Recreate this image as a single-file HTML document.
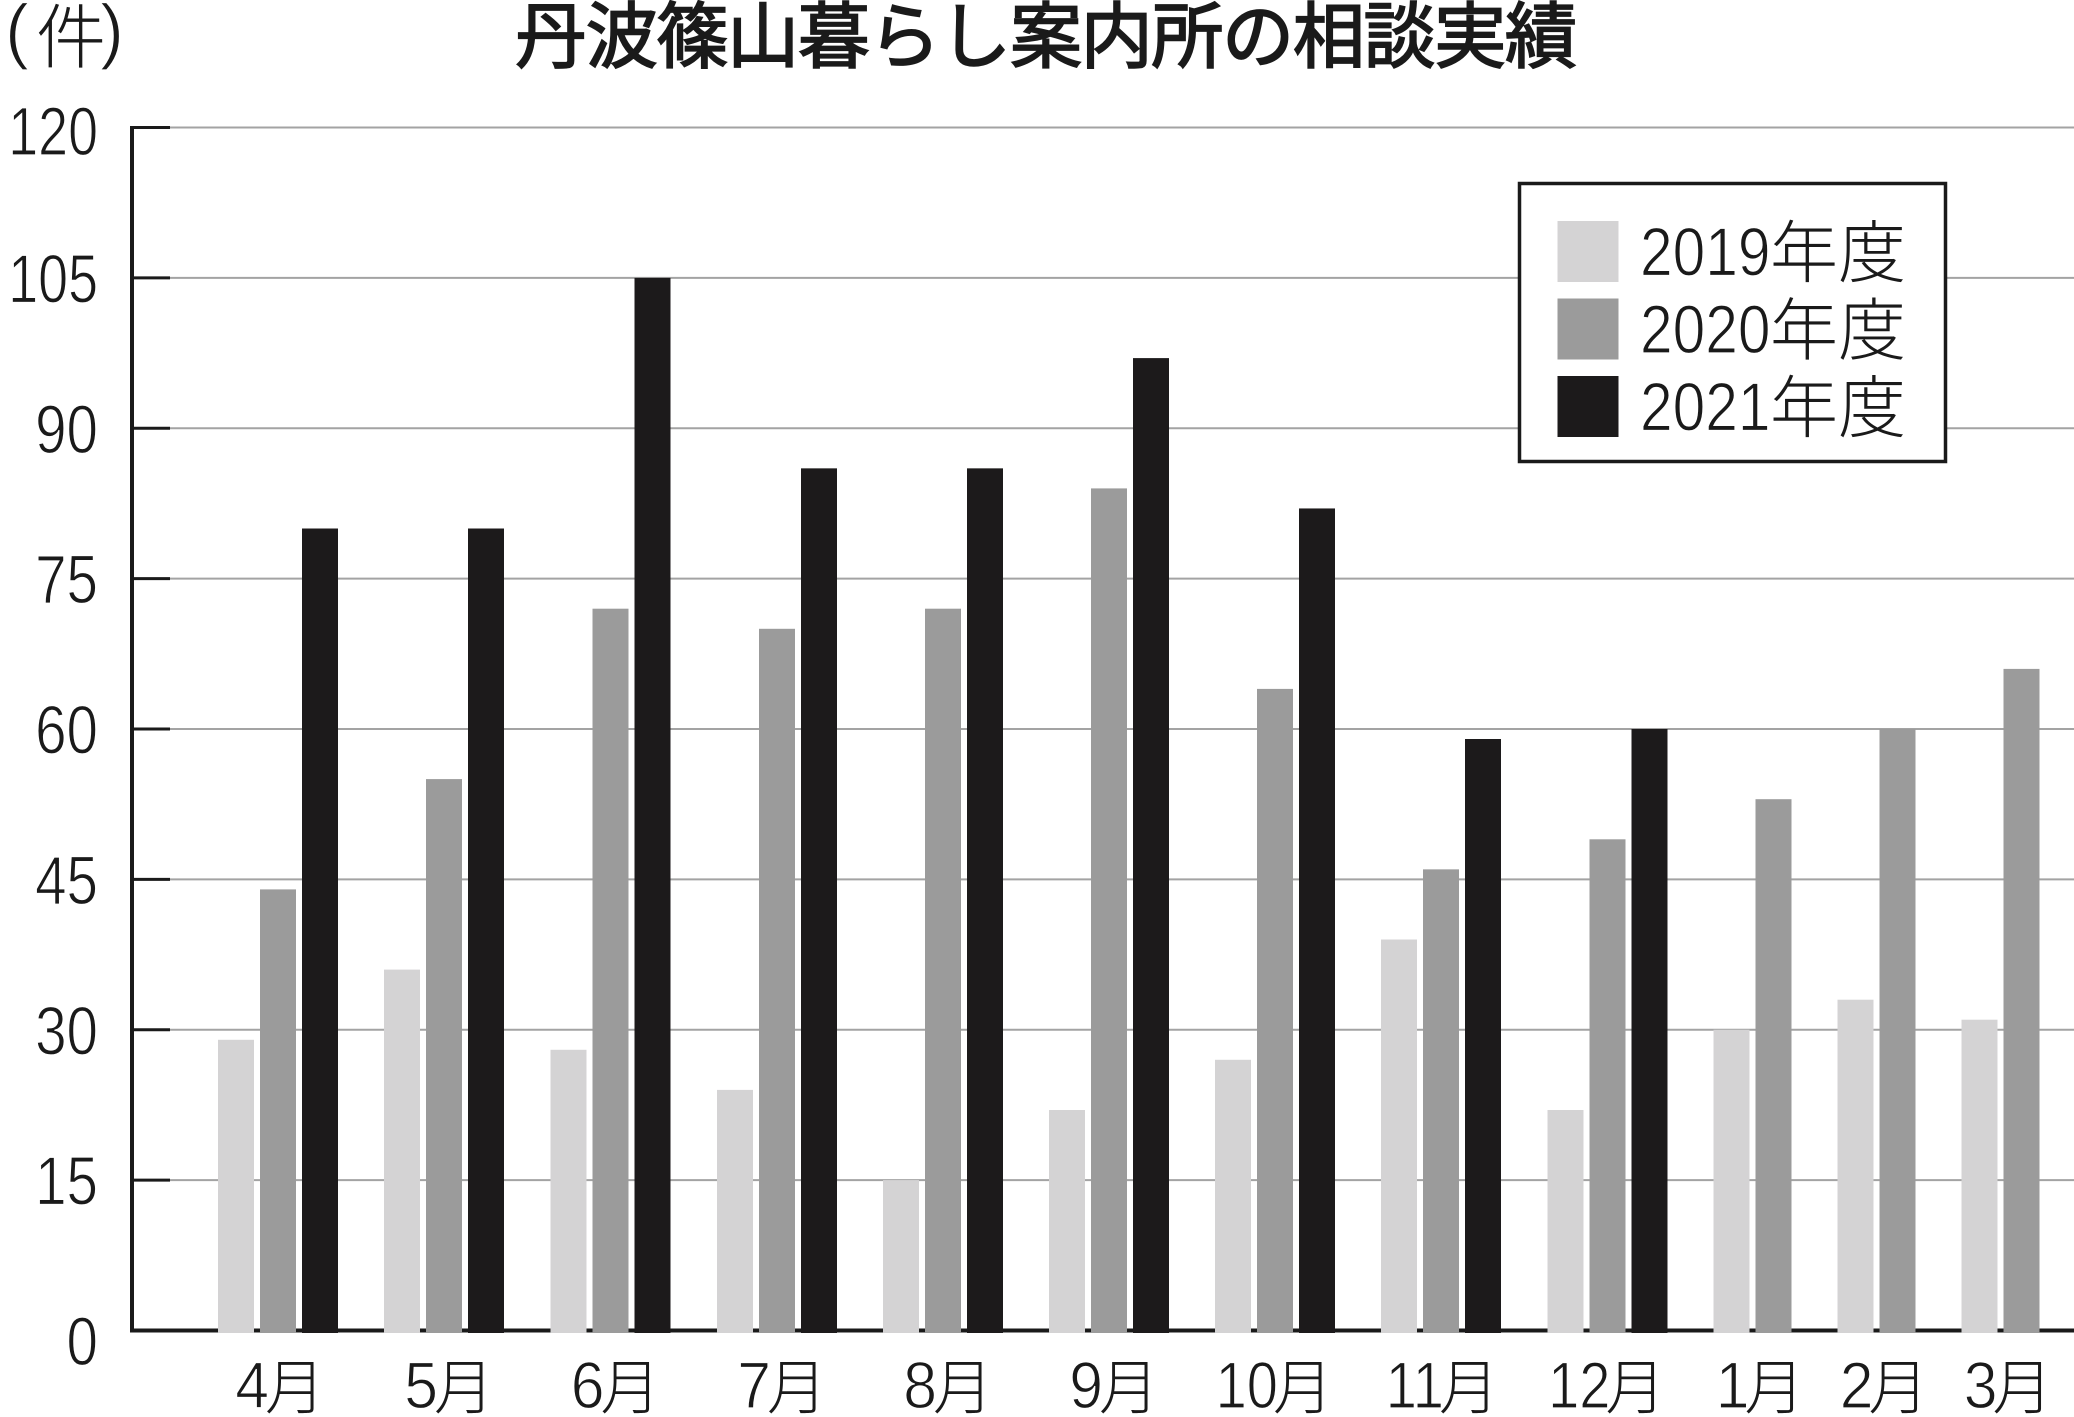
<!DOCTYPE html>
<html>
<head>
<meta charset="utf-8">
<style>
  html,body{margin:0;padding:0;background:#ffffff;}
  svg{display:block;}
  .d{font-family:"Liberation Sans",sans-serif;fill:#1a1a1a;stroke:#ffffff;stroke-width:1.2;}
  .j{font-family:"Liberation Sans","Noto Sans CJK JP",sans-serif;fill:#1a1a1a;}
</style>
</head>
<body>
<svg width="2074" height="1417" viewBox="0 0 2074 1417" xmlns="http://www.w3.org/2000/svg">
  <rect x="0" y="0" width="2074" height="1417" fill="#ffffff"/>

  <!-- unit label -->
  <text class="d" x="5" y="55" font-size="72">(</text>
  <text class="j" x="36" y="62" font-size="70" font-weight="300">件</text>
  <text class="d" x="100" y="55" font-size="72">)</text>

  <!-- title -->
  <text class="j" x="515" y="62" font-size="72" font-weight="400" stroke="#1a1a1a" stroke-width="1.8" textLength="1062" lengthAdjust="spacing">丹波篠山暮らし案内所の相談実績</text>

  <!-- gridlines -->
  <g stroke="#a3a3a3" stroke-width="2">
    <line x1="170" y1="1180.1" x2="2074" y2="1180.1"/>
    <line x1="170" y1="1029.75" x2="2074" y2="1029.75"/>
    <line x1="170" y1="879.4" x2="2074" y2="879.4"/>
    <line x1="170" y1="729" x2="2074" y2="729"/>
    <line x1="170" y1="578.6" x2="2074" y2="578.6"/>
    <line x1="170" y1="428.25" x2="2074" y2="428.25"/>
    <line x1="170" y1="277.9" x2="2074" y2="277.9"/>
    <line x1="170" y1="127.5" x2="2074" y2="127.5"/>
  </g>
  <!-- ticks -->
  <g stroke="#1a1a1a" stroke-width="3">
    <line x1="132" y1="1180.1" x2="170" y2="1180.1"/>
    <line x1="132" y1="1029.75" x2="170" y2="1029.75"/>
    <line x1="132" y1="879.4" x2="170" y2="879.4"/>
    <line x1="132" y1="729" x2="170" y2="729"/>
    <line x1="132" y1="578.6" x2="170" y2="578.6"/>
    <line x1="132" y1="428.25" x2="170" y2="428.25"/>
    <line x1="132" y1="277.9" x2="170" y2="277.9"/>
    <line x1="132" y1="127.5" x2="170" y2="127.5"/>
  </g>
  <!-- axes -->
  <line x1="132" y1="126" x2="132" y2="1332.5" stroke="#1a1a1a" stroke-width="4"/>
  <line x1="130" y1="1330.5" x2="2074" y2="1330.5" stroke="#1a1a1a" stroke-width="4"/>

  <!-- y tick labels -->
  <g class="d" font-size="69" text-anchor="end">
    <text transform="translate(98,1365) scale(0.82,1)">0</text>
    <text transform="translate(98,1204.6) scale(0.82,1)">15</text>
    <text transform="translate(98,1054.3) scale(0.82,1)">30</text>
    <text transform="translate(98,903.9) scale(0.82,1)">45</text>
    <text transform="translate(98,753.5) scale(0.82,1)">60</text>
    <text transform="translate(98,603.1) scale(0.82,1)">75</text>
    <text transform="translate(98,452.8) scale(0.82,1)">90</text>
    <text transform="translate(98,302.4) scale(0.78,1)">105</text>
    <text transform="translate(98,155) scale(0.78,1)">120</text>
  </g>

  <!-- bars 2019 -->
  <g fill="#d4d3d4">
    <rect x="218" y="1039.8" width="36" height="293.2"/>
    <rect x="384" y="969.6" width="36" height="363.4"/>
    <rect x="550.5" y="1049.8" width="36" height="283.2"/>
    <rect x="717" y="1089.9" width="36" height="243.1"/>
    <rect x="883" y="1180.1" width="36" height="152.9"/>
    <rect x="1049" y="1110" width="36" height="223"/>
    <rect x="1215" y="1059.8" width="36" height="273.2"/>
    <rect x="1381" y="939.5" width="36" height="393.5"/>
    <rect x="1547.5" y="1110" width="36" height="223"/>
    <rect x="1713.5" y="1029.75" width="36" height="303.25"/>
    <rect x="1837.5" y="999.7" width="36" height="333.3"/>
    <rect x="1961.5" y="1019.7" width="36" height="313.3"/>
  </g>
  <!-- bars 2020 -->
  <g fill="#9b9b9b">
    <rect x="260" y="889.4" width="36" height="443.6"/>
    <rect x="426" y="779.1" width="36" height="553.9"/>
    <rect x="592.5" y="608.7" width="36" height="724.3"/>
    <rect x="759" y="628.8" width="36" height="704.2"/>
    <rect x="925" y="608.7" width="36" height="724.3"/>
    <rect x="1091" y="488.4" width="36" height="844.6"/>
    <rect x="1257" y="688.9" width="36" height="644.1"/>
    <rect x="1423" y="869.35" width="36" height="463.65"/>
    <rect x="1589.5" y="839.3" width="36" height="493.7"/>
    <rect x="1755.5" y="799.2" width="36" height="533.8"/>
    <rect x="1879.5" y="729" width="36" height="604"/>
    <rect x="2003.5" y="668.9" width="36" height="664.1"/>
  </g>
  <!-- bars 2021 -->
  <g fill="#1c1a1b">
    <rect x="302" y="528.5" width="36" height="804.5"/>
    <rect x="468" y="528.5" width="36" height="804.5"/>
    <rect x="634.5" y="277.9" width="36" height="1055.1"/>
    <rect x="801" y="468.35" width="36" height="864.65"/>
    <rect x="967" y="468.35" width="36" height="864.65"/>
    <rect x="1133" y="358.1" width="36" height="974.9"/>
    <rect x="1299" y="508.45" width="36" height="824.55"/>
    <rect x="1465" y="739" width="36" height="594"/>
    <rect x="1631.5" y="729" width="36" height="604"/>
  </g>

  <!-- x labels -->
  <g class="d" font-size="66" text-anchor="end">
    <text transform="translate(269,1408) scale(0.92,1)">4</text>
    <text transform="translate(438,1408) scale(0.92,1)">5</text>
    <text transform="translate(604.5,1408) scale(0.92,1)">6</text>
    <text transform="translate(771,1408) scale(0.92,1)">7</text>
    <text transform="translate(937,1408) scale(0.92,1)">8</text>
    <text transform="translate(1103,1408) scale(0.92,1)">9</text>
    <text transform="translate(1278,1408) scale(0.85,1)">10</text>
    <text transform="translate(1444,1408) scale(0.85,1)">11</text>
    <text transform="translate(1610.5,1408) scale(0.85,1)">12</text>
    <text transform="translate(1749.5,1408) scale(0.92,1)">1</text>
    <text transform="translate(1873.5,1408) scale(0.92,1)">2</text>
    <text transform="translate(1997.5,1408) scale(0.92,1)">3</text>
  </g>
  <g class="j" font-size="60" font-weight="300">
    <text x="265" y="1409">月</text>
    <text x="434" y="1409">月</text>
    <text x="600.5" y="1409">月</text>
    <text x="767" y="1409">月</text>
    <text x="933" y="1409">月</text>
    <text x="1099" y="1409">月</text>
    <text x="1273" y="1409">月</text>
    <text x="1439" y="1409">月</text>
    <text x="1605.5" y="1409">月</text>
    <text x="1744.5" y="1409">月</text>
    <text x="1868.5" y="1409">月</text>
    <text x="1992.5" y="1409">月</text>
  </g>

  <!-- legend -->
  <rect x="1519.5" y="183.5" width="426" height="278" fill="#ffffff" stroke="#1a1a1a" stroke-width="3.5"/>
  <rect x="1557.5" y="221" width="61" height="61" fill="#d4d3d4"/>
  <rect x="1557.5" y="298.5" width="61" height="61" fill="#9b9b9b"/>
  <rect x="1557.5" y="376" width="61" height="61" fill="#1c1a1b"/>
  <g class="d" font-size="69">
    <text transform="translate(1640,275.5) scale(0.85,1)">2019</text>
    <text transform="translate(1640,353) scale(0.85,1)">2020</text>
    <text transform="translate(1640,430.5) scale(0.85,1)">2021</text>
  </g>
  <g class="j" font-size="68" font-weight="300">
    <text x="1770" y="277">年度</text>
    <text x="1770" y="354.5">年度</text>
    <text x="1770" y="432">年度</text>
  </g>
</svg>
</body>
</html>
